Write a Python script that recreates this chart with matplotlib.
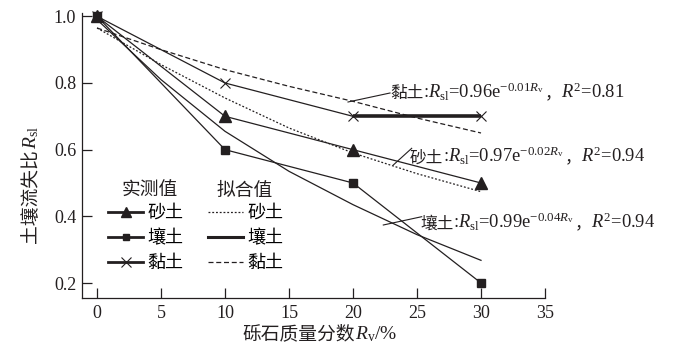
import matplotlib
matplotlib.use('Agg')
import matplotlib.pyplot as plt
from matplotlib.lines import Line2D
from matplotlib.offsetbox import TextArea, HPacker, AnnotationBbox

# measured values
rv = [0, 10, 20, 30]
sand_obs = [1.0, 0.70, 0.60, 0.50]
loam_obs = [1.0, 0.60, 0.50, 0.20]
clay_obs = [1.0, 0.80, 0.70, 0.70]

# fitted curves
rv_fit = [0, 5, 10, 15, 20, 25, 30]
sand_fit = [0.965, 0.855, 0.755, 0.665, 0.59, 0.528, 0.474]
loam_fit = [0.99, 0.81, 0.655, 0.535, 0.435, 0.345, 0.268]
clay_fit = [0.965, 0.90, 0.84, 0.79, 0.745, 0.695, 0.65]

soil_names = ['砂土', '壤土', '黏土']
x_ticks = [0, 5, 10, 15, 20, 25, 30, 35]
y_ticks = [0.2, 0.4, 0.6, 0.8, 1.0]

W, H = 677, 364
SERIF = 'Liberation Serif'
CJK = 'Noto Sans CJK SC'
K = '#231f20'

plt.rcParams['font.family'] = [SERIF, CJK]
plt.rcParams['mathtext.fontset'] = 'custom'
plt.rcParams['mathtext.rm'] = SERIF
plt.rcParams['mathtext.it'] = SERIF + ':italic'

fig = plt.figure(figsize=(W / 100, H / 100), dpi=100)
ax = fig.add_axes([81.7 / W, 1 - 298 / H, (545 - 81.7) / W, (298 - 13) / H])

# observed lines
ax.plot(rv, sand_obs, color=K, lw=0.9, marker='^', ms=8, mfc=K, mec=K, clip_on=False)
ax.plot(rv, loam_obs, color=K, lw=0.9, marker='s', ms=6, mfc=K, mec=K, clip_on=False)
ax.plot(rv, clay_obs, color=K, lw=0.9, marker='x', ms=7, mew=0.8, mec=K, clip_on=False)
ax.plot(rv[2:], clay_obs[2:], color=K, lw=2.6, solid_capstyle='butt')

# fitted lines
ax.plot(rv_fit, sand_fit, color=K, lw=0.9, ls=(0, (1.5, 1.5)))
ax.plot(rv_fit, loam_fit, color=K, lw=0.9)
ax.plot(rv_fit, clay_fit, color=K, lw=0.9, ls=(0, (4, 2.2)))

ax.set_xlim(-1.2, 35)
ax.set_ylim(0.155, 1.01)
ax.set_xticks(x_ticks)
ax.set_yticks(y_ticks)
ax.set_yticklabels([f'{v:.1f}' for v in y_ticks])
ax.tick_params(direction='in', length=7, width=0.9, labelsize=13, color=K, labelcolor=K)
ax.tick_params(axis='x', pad=5)
ax.tick_params(axis='y', pad=4)
for s in ['top', 'right']:
    ax.spines[s].set_visible(False)
for s in ['left', 'bottom']:
    ax.spines[s].set_linewidth(0.9)
    ax.spines[s].set_color(K)


def px_text(x, y, parts, align=(0, 0.5)):
    # parts: list of (string, is_cjk, size) laid out on one baseline
    areas = []
    for s, cjk, size in parts:
        fam = CJK if cjk else SERIF
        areas.append(TextArea(s, textprops=dict(fontfamily=fam, fontsize=size, color=K)))
    box = HPacker(children=areas, align='baseline', pad=0, sep=0)
    ab = AnnotationBbox(box, (x, H - y), xycoords='figure pixels', frameon=False,
                        box_alignment=align, pad=0)
    fig.add_artist(ab)


# equation labels with leader lines
eqs = [
    (390, 92, '黏土', '0.96', '0.01', '0.81'),
    (410, 156, '砂土', '0.97', '0.02', '0.94'),
    (420, 222, '壤土', '0.99', '0.04', '0.94'),
]
for x, y, name, a, b, r2 in eqs:
    px_text(x, y, [(name, True, 12),
                   (r':$R_{\mathrm{sl}}$=' + a + r'e$^{-' + b + r'R_{\mathrm{v}}}$', False, 13.3),
                   ('，', True, 12),
                   (r'$R^2$=' + r2, False, 13.3)])
for (x0, y0, x1, y1) in [(390, 93, 348, 102), (411.7, 148.3, 393.3, 165), (421.7, 216.7, 383.3, 225)]:
    fig.add_artist(Line2D([x0 / W, x1 / W], [1 - y0 / H, 1 - y1 / H], color=K, lw=0.8))

# axis labels
px_text(320, 334, [('砾石质量分数', True, 13.5), (r'$R_{\mathrm{v}}$/%', False, 14)], align=(0.5, 0.5))
yl = fig.text(31 / W, 1 - 243 / H, '土壤流失比', fontfamily=CJK, fontsize=13.5, rotation=90,
              ha='center', va='bottom', color=K)
ax.annotate(r'$R_{\mathrm{sl}}$', xy=(0.5, 1), xycoords=yl, rotation=90, ha='center', va='bottom',
            fontsize=14, color=K)

# legend
handles = [
    Line2D([], [], color=K, lw=2, marker='^', ms=7, mfc=K, mec=K),
    Line2D([], [], color=K, lw=2, marker='s', ms=5, mfc=K, mec=K),
    Line2D([], [], color=K, lw=2, marker='x', ms=7, mew=0.8, mec=K),
    Line2D([], [], color=K, lw=0.9, ls=(0, (1.5, 1.5))),
    Line2D([], [], color=K, lw=2.2),
    Line2D([], [], color=K, lw=0.9, ls=(0, (4, 2.2))),
]
fig.legend(handles, soil_names + soil_names, ncol=2, loc='upper left',
           bbox_to_anchor=(108 / W, 1 - 204 / H), bbox_transform=fig.transFigure,
           frameon=False, borderpad=0, borderaxespad=0, handlelength=1.95, handletextpad=0.25,
           columnspacing=1.35, labelspacing=0.4, prop=dict(family=CJK, size=13))
fig.text(122 / W, 1 - 190 / H, '实测值', fontfamily=CJK, fontsize=13.5, va='center', color=K)
fig.text(217 / W, 1 - 190 / H, '拟合值', fontfamily=CJK, fontsize=13.5, va='center', color=K)

fig.savefig('out.png', dpi=100)
